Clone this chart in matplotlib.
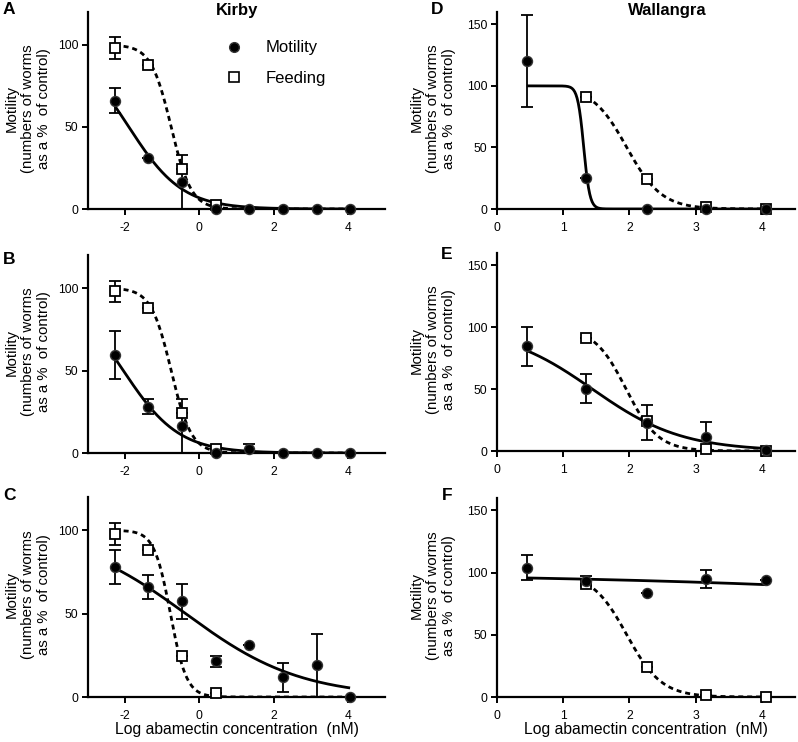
import numpy as np
import matplotlib
matplotlib.use("Agg")
import matplotlib.pyplot as plt
from matplotlib.lines import Line2D

plt.rcParams['font.family'] = ['Liberation Sans', 'DejaVu Sans']
plt.rcParams['axes.unicode_minus'] = False

# ---------------- data ----------------
x_kirby = [-2.28, -1.38, -0.47, 0.45, 1.35, 2.26, 3.16, 4.06]
x_kirby_feed = [-2.28, -1.38, -0.47, 0.45]
x_wall = [0.45, 1.35, 2.26, 3.16, 4.06]
x_wall_feed = [1.35, 2.26, 3.16, 4.06]

A_mot = [66, 31, 16.5, 0, 0, 0, 0, 0]
A_mot_err = [7.5, 0, 16.5, 0, 0, 0, 0, 0]
A_feed = [98, 88, 24.5, 2.5]
A_feed_err = [6.5, 0, 0, 0]

B_mot = [59.5, 28, 16.5, 0, 2.5, 0, 0, 0]
B_mot_err = [14.5, 4.5, 16.5, 0, 3, 0, 0, 0]
B_feed = [98, 88, 24.5, 2.5]
B_feed_err = [6.5, 0, 0, 0]

C_mot = [78, 66, 57.5, 21.5, 31, 12, 19, 0]
C_mot_err = [10, 7, 10.5, 3.3, 0, 8.7, 19, 0]
C_feed = [98, 88, 24.5, 2.5]
C_feed_err = [6.5, 0, 0, 0]

D_mot = [120, 25, 0, 0, 0]
D_mot_err = [37.5, 0, 0, 0, 0]
D_feed = [91, 24, 2, 0]

E_mot = [84.5, 50.5, 23, 11.5, 0.5]
E_mot_err = [15.5, 11.5, 14, 12, 0]
E_feed = [91, 24, 1.3, 0]

F_mot = [104, 93, 83.5, 95, 94]
F_mot_err = [10, 4, 0, 7, 0]
F_feed = [91, 24, 1.5, 0]

# fitted dose-response parameters: (top, bottom, logIC50, hill slope)
A_mot_fit = (100, 0, -1.9, 0.6)
A_feed_fit = (100, 0, -0.76, 1.6)
B_mot_fit = (100, 0, -2.05, 0.58)
B_feed_fit = (100, 0, -0.76, 1.6)
C_mot_fit = (100, 0, -0.37, 0.28)
C_feed_fit = (100, 0, -0.78, 2.0)
D_mot_fit = (100, 0, 1.31, 9.5)
D_feed_fit = (100, 0, 1.96, 1.65)
E_mot_fit = (100, 0, 1.44, 0.64)
E_feed_fit = (100, 0, 1.95, 1.8)
F_mot_fit = (100, 0, 13.3, 0.105)
F_feed_fit = (100, 0, 1.96, 1.65)

titles = ["Kirby", "Wallangra"]
letters = ["A", "B", "C", "D", "E", "F"]
ylabel_text = "Motility\n(numbers of worms\nas a %  of control)"
xlabel_text = "Log abamectin concentration  (nM)"

# ---------------- layout ----------------
W, H = 798, 742
fig = plt.figure(figsize=(W / 100, H / 100), dpi=100)


def add_ax(l, t, r, b):
    return fig.add_axes([l / W, 1 - b / H, (r - l) / W, (b - t) / H])


def hill(x, p):
    top, bot, c, s = p
    return bot + (top - bot) / (1 + 10 ** ((x - c) * s))


def style(ax, xlim, ylim, xticks, yticks):
    ax.set_xlim(*xlim)
    ax.set_ylim(*ylim)
    ax.set_xticks(xticks)
    ax.set_yticks(yticks)
    for s in ['top', 'right']:
        ax.spines[s].set_visible(False)
    for s in ['left', 'bottom']:
        ax.spines[s].set_linewidth(1.6)
    ax.tick_params(axis='both', length=4.5, width=1.4, labelsize=8.7, direction='out')
    ax.tick_params(axis='x', pad=5)
    ax.tick_params(axis='y', pad=2.5)
    ax.patch.set_alpha(0)


def draw(ax, xm, mot, mot_err, mfit, xf, feed, feed_err, ffit):
    xx = np.linspace(xm[0], xm[-1], 400)
    ax.plot(xx, hill(xx, mfit), color='black', lw=2.0, zorder=3, solid_capstyle='butt')
    xx2 = np.linspace(xf[0], xm[-1], 400)
    ax.plot(xx2, hill(xx2, ffit), color='black', lw=2.0, ls=(0, (1.8, 1.4)), zorder=3)
    ax.errorbar(xf, feed, yerr=feed_err, fmt='none', ecolor='black', elinewidth=1.3,
                capsize=4.5, capthick=1.3, zorder=4)
    ax.errorbar(xm, mot, yerr=mot_err, fmt='none', ecolor='black', elinewidth=1.3,
                capsize=4.5, capthick=1.3, zorder=4)
    ax.plot(xf, feed, ls='none', marker='s', ms=7.5, mfc='white', mec='black', mew=1.3,
            zorder=5, clip_on=False)
    ax.plot(xm, mot, ls='none', marker='o', ms=7.2, mfc='black', mec='#333333', mew=1,
            zorder=6, clip_on=False)


rects_left = [(88, 12, 385, 209), (88, 255, 385, 453), (88, 497, 385, 697)]
rects_right = [(497, 12, 795, 209), (497, 253, 795, 451), (497, 498, 795, 697)]

left_data = [
    (A_mot, A_mot_err, A_mot_fit, A_feed, A_feed_err, A_feed_fit),
    (B_mot, B_mot_err, B_mot_fit, B_feed, B_feed_err, B_feed_fit),
    (C_mot, C_mot_err, C_mot_fit, C_feed, C_feed_err, C_feed_fit),
]
right_data = [
    (D_mot, D_mot_err, D_mot_fit, D_feed, [0] * 4, D_feed_fit),
    (E_mot, E_mot_err, E_mot_fit, E_feed, [0] * 4, E_feed_fit),
    (F_mot, F_mot_err, F_mot_fit, F_feed, [0] * 4, F_feed_fit),
]

axes_left = []
for rect, d in zip(rects_left, left_data):
    ax = add_ax(*rect)
    style(ax, (-3, 5), (0, 120), [-2, 0, 2, 4], [0, 50, 100])
    draw(ax, x_kirby, d[0], d[1], d[2], x_kirby_feed, d[3], d[4], d[5])
    axes_left.append(ax)

axes_right = []
for rect, d in zip(rects_right, right_data):
    ax = add_ax(*rect)
    style(ax, (0, 4.5), (0, 160), [0, 1, 2, 3, 4], [0, 50, 100, 150])
    draw(ax, x_wall, d[0], d[1], d[2], x_wall_feed, d[3], d[4], d[5])
    axes_right.append(ax)

# y labels
for rect in rects_left:
    fig.text(28 / W, 1 - ((rect[1] + rect[3]) / 2 - 2) / H, ylabel_text, rotation=90,
             ha='center', va='center', multialignment='center', fontsize=10.8,
             linespacing=1.18)
for rect in rects_right:
    fig.text(433 / W, 1 - ((rect[1] + rect[3]) / 2 - 2) / H, ylabel_text, rotation=90,
             ha='center', va='center', multialignment='center', fontsize=10.8,
             linespacing=1.18)

# x labels
for ax in (axes_left[2], axes_right[2]):
    ax.set_xlabel(xlabel_text, fontsize=11.3, labelpad=0)

# titles
fig.text(237 / W, 1 - 10 / H, titles[0], ha='center', va='center', fontsize=12, fontweight='bold')
fig.text(667 / W, 1 - 10 / H, titles[1], ha='center', va='center', fontsize=12, fontweight='bold')

# panel letters
letter_pos = [(9, 9), (9, 259), (9, 495), (437, 9), (447, 255), (447, 496)]
for lt, (px, py) in zip(letters, letter_pos):
    fig.text(px / W, 1 - py / H, lt, ha='center', va='center', fontsize=12.5,
             fontweight='bold')

# legend
handles = [Line2D([], [], ls='none', marker='o', ms=7, mfc='black', mec='#333333'),
           Line2D([], [], ls='none', marker='s', ms=7, mfc='white', mec='black', mew=1.2)]
axes_left[0].legend(handles, ["Motility", "Feeding"], loc='upper left',
                    bbox_to_anchor=(0.44, 0.89), frameon=False, fontsize=12,
                    handlelength=1.0, handletextpad=1.4, labelspacing=0.95,
                    borderaxespad=0)

fig.savefig("out.png", dpi=100)
